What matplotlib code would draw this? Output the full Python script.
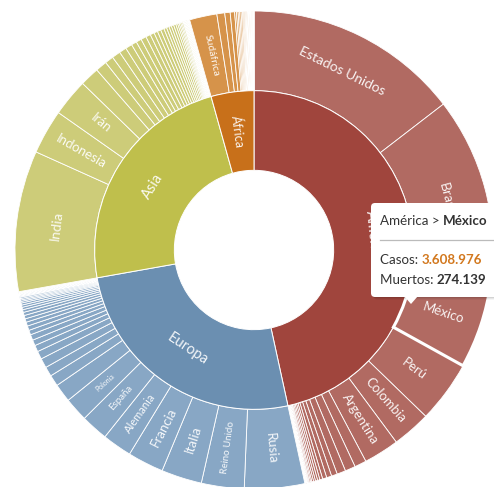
import matplotlib
matplotlib.use("Agg")
import matplotlib.pyplot as plt
from matplotlib.patches import FancyBboxPatch, Polygon
import numpy as np

plt.rcParams['font.family'] = ['Lato', 'DejaVu Sans']

# muertes por país (sept. 2021), agrupadas por continente
america_names = ["Estados Unidos", "Brasil", "México", "Perú", "Colombia", "Argentina"]
america_vals = [680000, 590000, 274139, 196000, 122000, 112000,
                37400, 32700, 27500, 18600, 15900, 13200, 9100, 7200, 6900, 6070,
                5500, 4050, 4000, 3000, 2900, 1500, 1500, 780, 700, 700, 640,
                600, 500, 400, 300, 200, 200, 170, 140, 50, 30]

europa_names = ["Rusia", "Reino Unido", "Italia", "Francia", "Alemania", "España", "Polonia"]
europa_vals = [190000, 135000, 128000, 114000, 93500, 86000, 75500,
               58000, 35500, 30400, 30100, 25400, 20500, 18200, 17900, 14700,
               14100, 12600, 10900, 10800, 10000, 8500, 7700, 7100, 6500, 5100,
               4600, 4500, 4300, 2800, 2600, 2600, 2500, 1800, 1300, 1000, 840,
               830, 540, 450, 130, 90, 60, 33, 33]

asia_names = ["India", "Indonesia", "Irán"]
asia_vals = [445000, 141000, 118000,
             61000, 36000, 27000, 27000, 23000, 21000, 17000, 17000, 17000,
             15000, 13000, 11500, 11000, 10800, 8700, 8200, 7700, 7600, 7200,
             6000, 5000, 4600, 4100, 4000, 2700, 2400, 2400, 2400, 2300, 2100,
             1700, 1400, 1100, 900, 840, 600, 220, 200, 100, 70, 40, 20]

africa_names = ["Sudáfrica"]
africa_vals = [86500, 24800, 17000, 14000, 5700, 5100, 4800, 4600, 4400,
               3600, 3500, 3100, 2900, 2600, 2300, 2200, 1900, 1800, 1400,
               1400, 1200, 1100, 1100, 1100, 1100, 950, 780, 660, 600, 540]

continents = ["América", "Europa", "Asia", "África"]
inner_colors = ["#A0453D", "#6B8FB1", "#BFBF4C", "#C8701A"]
outer_colors = ["#B16A62", "#88A7C5", "#CDCC79", "#D6934A"]

groups = [(america_names, america_vals), (europa_names, europa_vals),
          (asia_names, asia_vals), (africa_names, africa_vals)]

outer_vals, outer_cols, outer_labels = [], [], []
inner_vals = []
for (names, vals), col in zip(groups, outer_colors):
    inner_vals.append(sum(vals))
    for i, v in enumerate(vals):
        outer_vals.append(v)
        outer_cols.append(col)
        outer_labels.append(names[i] if i < len(names) else "")

W, H = 494, 487
fig = plt.figure(figsize=(W / 100, H / 100), dpi=100)
ax = fig.add_axes([0, 0, 1, 1])

R = 239.0
cx, cy = 254, 250

outer_w, _ = ax.pie(outer_vals, radius=1.0, colors=outer_cols, startangle=90,
                    counterclock=False,
                    wedgeprops=dict(width=1 / 3, edgecolor="white", linewidth=0.6))
inner_w, _ = ax.pie(inner_vals, radius=2 / 3, colors=inner_colors, startangle=90,
                    counterclock=False,
                    wedgeprops=dict(width=1 / 3, edgecolor="white", linewidth=0.7))

ax.set_aspect("auto")
ax.set_xlim(-cx / R, (W - cx) / R)
ax.set_ylim(-(H - cy) / R, cy / R)
ax.axis("off")


def place(w, text, r, mode, size):
    mid = (w.theta1 + w.theta2) / 2
    a = np.deg2rad(mid)
    rot = mid if mode == "radial" else mid - 90
    rot = (rot + 180) % 360 - 180
    if rot > 90:
        rot -= 180
    elif rot < -90:
        rot += 180
    ax.text(r * np.cos(a), r * np.sin(a), text, rotation=rot,
            rotation_mode="anchor", ha="center", va="center",
            color="white", alpha=0.92, fontsize=size, zorder=5)


label_style = {
    "Estados Unidos": ("tangential", 10), "Brasil": ("tangential", 10),
    "México": ("radial", 9.5), "Perú": ("radial", 9.5),
    "Colombia": ("radial", 9.5), "Argentina": ("radial", 9.5),
    "Rusia": ("radial", 9.5), "Reino Unido": ("radial", 7),
    "Italia": ("radial", 9.5), "Francia": ("radial", 9.5),
    "Alemania": ("radial", 8), "España": ("radial", 7), "Polonia": ("radial", 5),
    "India": ("tangential", 10), "Indonesia": ("radial", 9.5),
    "Irán": ("radial", 9.5), "Sudáfrica": ("radial", 7.5),
}
for w, lab in zip(outer_w, outer_labels):
    if lab:
        mode, size = label_style[lab]
        place(w, lab, 5 / 6, mode, size)

inner_style = [("tangential", 10.5), ("tangential", 10.5), ("tangential", 10.5), ("radial", 9)]
for w, lab, (mode, size) in zip(inner_w, continents, inner_style):
    place(w, lab, 0.5, mode, size)

# segmento resaltado (México)
mex = outer_w[outer_labels.index("México")]
mex.set_linewidth(2.2)
mex.set_zorder(4)

# tooltip en coordenadas de píxel
ax2 = fig.add_axes([0, 0, 1, 1], facecolor="none")
ax2.set_xlim(0, W)
ax2.set_ylim(H, 0)
ax2.axis("off")

bx, by, bw, bh = 371, 203, 140, 94
for k, al in [(3, 0.04), (2, 0.06), (1, 0.08)]:
    ax2.add_patch(FancyBboxPatch((bx + k, by + k), bw, bh,
                                 boxstyle="round,pad=0,rounding_size=4",
                                 fc="black", ec="none", alpha=al, zorder=9))
ax2.add_patch(FancyBboxPatch((bx, by), bw, bh, boxstyle="round,pad=0,rounding_size=4",
                             fc="white", ec="none", zorder=10))
ax2.add_patch(Polygon([(404, bh + by - 1), (418, bh + by - 1), (411, by + bh + 7)],
                      closed=True, fc="white", ec="none", zorder=10))
ax2.plot([380, W], [240, 240], color="#bbbbbb", lw=0.9, zorder=11)

renderer = fig.canvas.get_renderer()


def run(x, y, parts):
    for txt, weight, col in parts:
        t = ax2.text(x, y, txt, fontsize=9.6, fontweight=weight, color=col,
                     va="center", ha="left", zorder=12)
        x += t.get_window_extent(renderer=renderer).width


run(380, 221, [("América > ", "normal", "#333333"), ("México", "bold", "#333333")])
run(380, 260, [("Casos: ", "normal", "#333333"), ("3.608.976", "bold", "#D2781E")])
run(380, 280, [("Muertos: ", "normal", "#333333"), ("274.139", "bold", "#333333")])

fig.savefig("out.png", dpi=100)
